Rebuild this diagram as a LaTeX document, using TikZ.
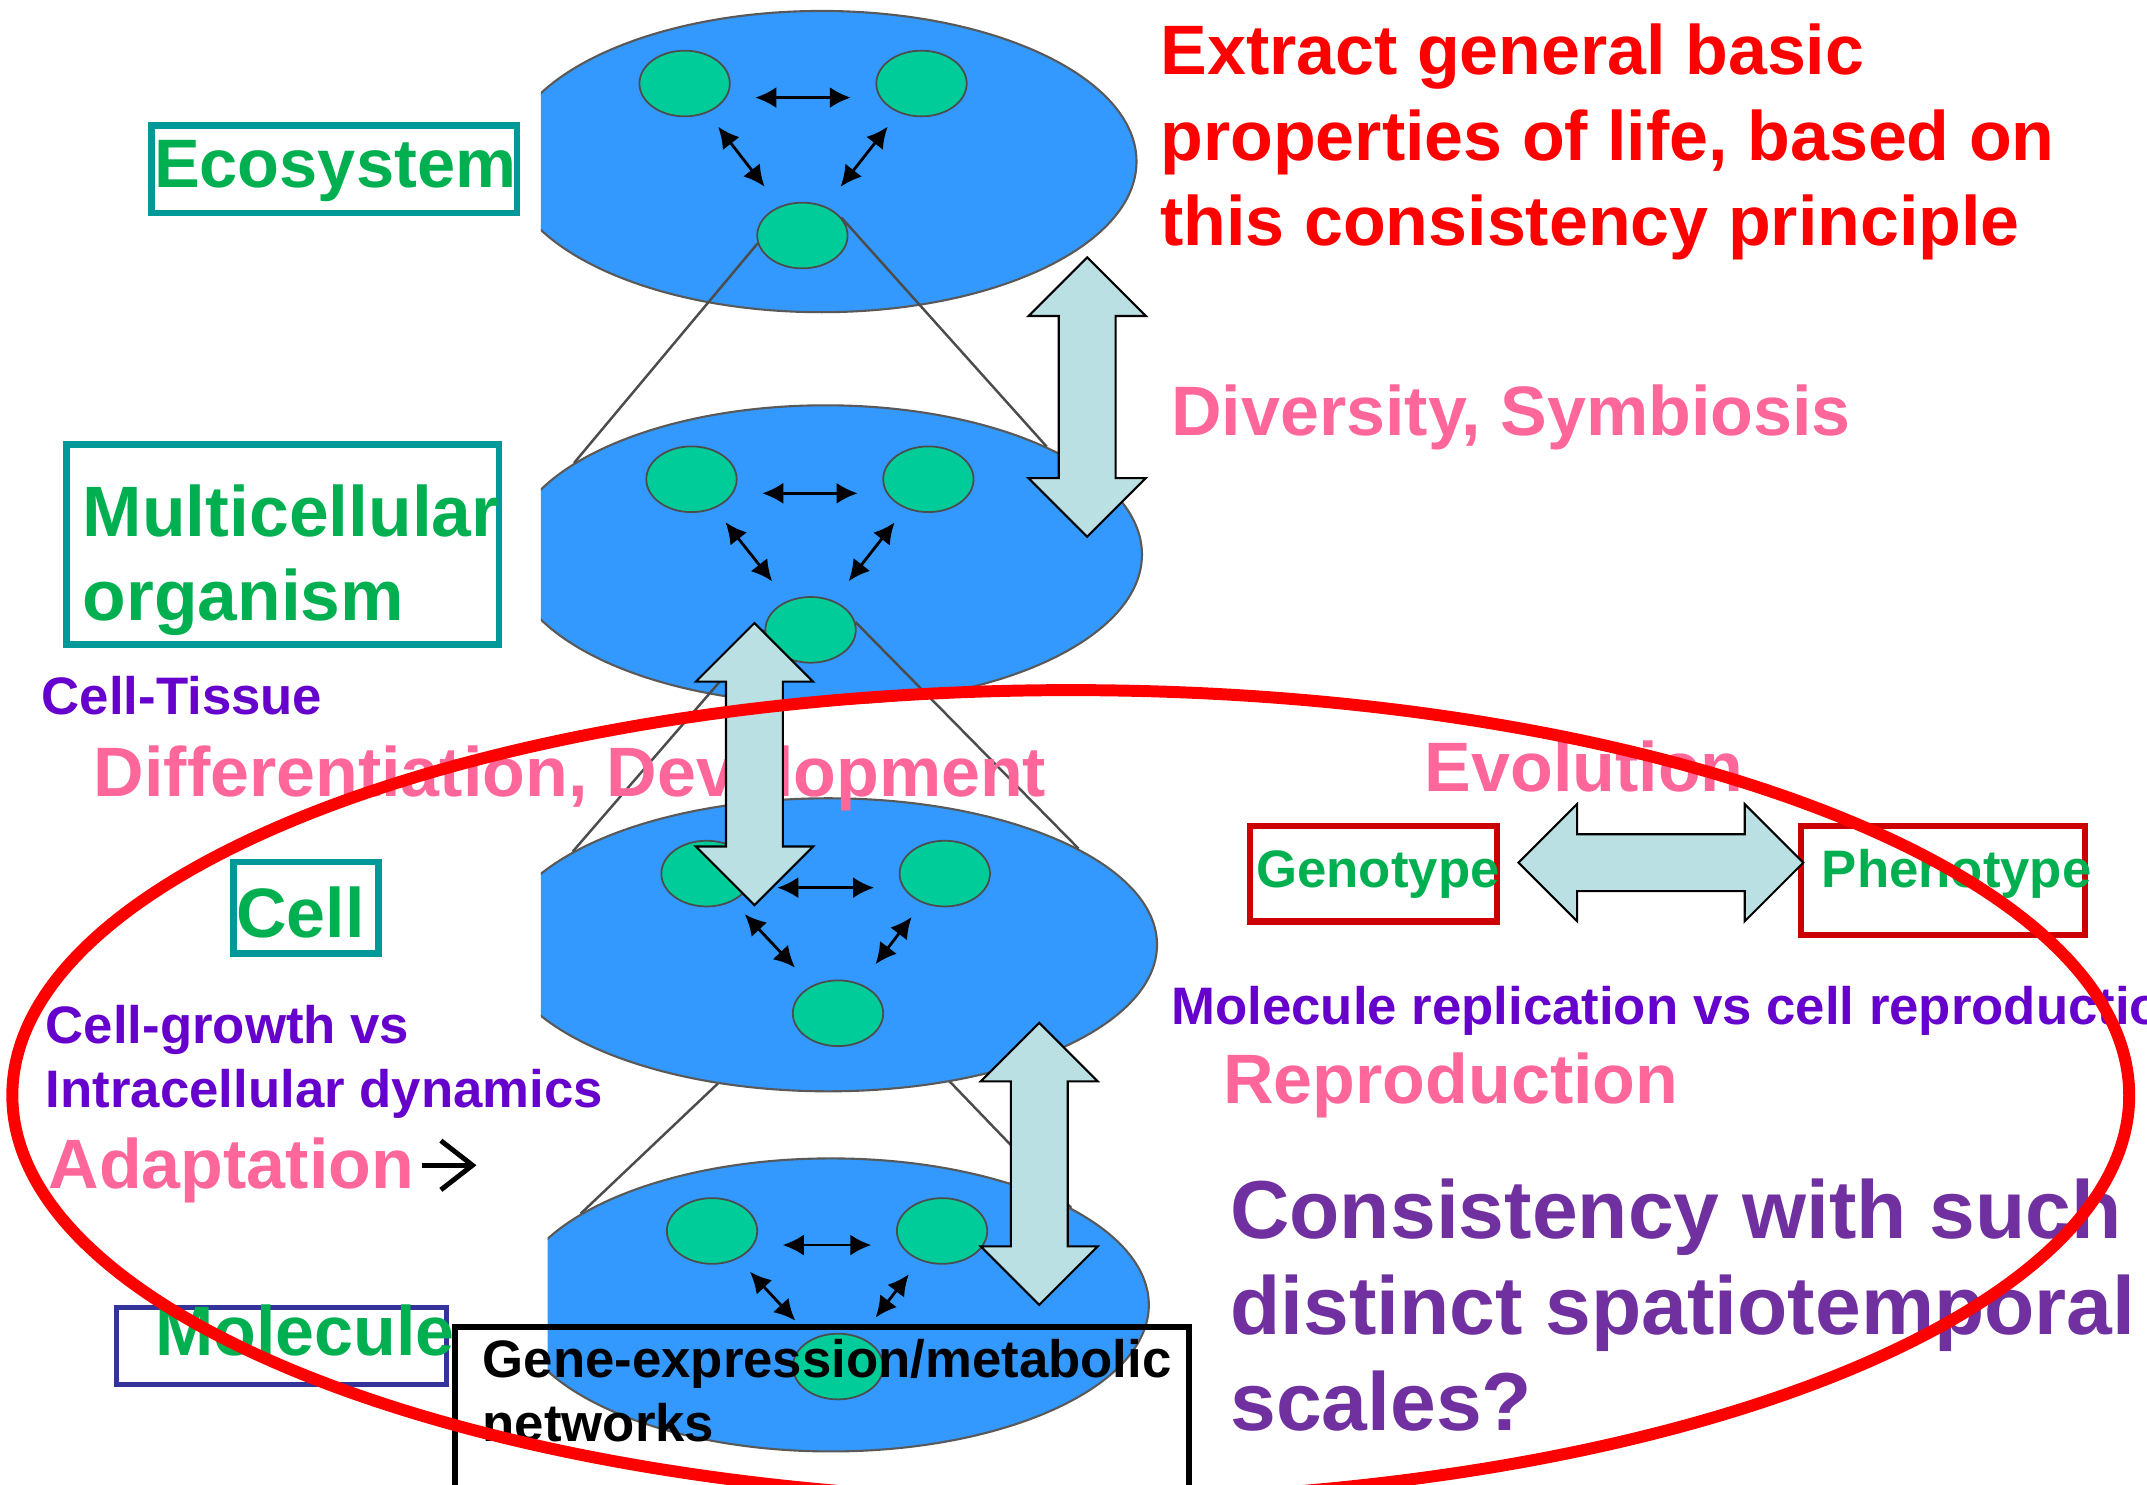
\documentclass[tikz,border=0pt]{standalone}
\usepackage{fontspec}
\setmainfont{Liberation Sans}
\usetikzlibrary{arrows.meta,shapes.geometric,shapes.arrows,backgrounds}

\definecolor{CellBlue}{HTML}{3399FF}
\definecolor{CellGreen}{HTML}{00CC99}
\definecolor{ArrowFill}{HTML}{BBE0E3}
\definecolor{LabelGreen}{HTML}{00B050}
\definecolor{BoxTeal}{HTML}{009999}
\definecolor{BoxRed}{HTML}{CC0000}
\definecolor{BoxNavy}{HTML}{333399}
\definecolor{TopicPink}{HTML}{FF6699}
\definecolor{NotePurple}{HTML}{6600CC}
\definecolor{AskPurple}{HTML}{7030A0}

% one pixel of the 1568 x 1084 layout
\newcommand{\dpx}{0.013693cm}

\tikzset{
  tier/.style={ellipse, draw=black!65, line width=0.6pt, fill=CellBlue, inner sep=0pt},
  cellnode/.style={ellipse, draw=black!70, line width=0.5pt, fill=CellGreen, inner sep=0pt,
                   minimum width=66*\dpx, minimum height=48*\dpx},
  link/.style={{Latex[length=6pt,width=6pt]}-{Latex[length=6pt,width=6pt]}, line width=0.8pt},
  cone/.style={black!70, line width=0.7pt},
  fatarrow/.style={double arrow, draw=black, line width=0.6pt, fill=ArrowFill,
                   inner xsep=0pt, inner ysep=20*\dpx,
                   minimum width=84*\dpx, double arrow head extend=22*\dpx,
                   double arrow tip angle=90},
  framebox/.style={rectangle, inner sep=0pt, fill=none},
  lbl/.style={inner sep=0pt, anchor=base west, align=left},
  bigtext/.style={font=\fontsize{19.9}{24.2}\selectfont\bfseries},
  smalltext/.style={font=\fontsize{15}{18.3}\selectfont\bfseries},
  asktext/.style={font=\fontsize{23.4}{27.3}\selectfont\bfseries},
  pointer/.style={-{Straight Barb[length=9pt,width=14pt]}, line width=1.4pt, black},
  ring/.style={draw=red, line width=3.4pt}
}

\begin{document}
\begin{tikzpicture}[x=\dpx, y=-\dpx]
  \useasboundingbox (0,0) rectangle (1568,1084);
  \clip (0,0) rectangle (1568,1084);

  % the four levels
  \foreach \n/\cx/\cy/\w/\h/\gy/\gl/\gr/\gb/\gby/\cut in {
      1/600/118/460/220/61/500/673/586/172/395,
      2/603/405/462/218/350/505/678/592/460/395,
      3/605/690/480/214/638/516/690/612/740/395,
      4/607/953/464/214/899/520/688/612/998/400}
  {
    \begin{scope}
      \clip (\cut,\cy-130) rectangle (1000,\cy+130);
      \node[tier, minimum width=\w*\dpx, minimum height=\h*\dpx] (tier\n) at (\cx,\cy) {};
    \end{scope}
    \node[cellnode] (gl\n) at (\gl,\gy) {};
    \node[cellnode] (gr\n) at (\gr,\gy) {};
    \node[cellnode] (gb\n) at (\gb,\gby) {};
    \draw[link, shorten <=7pt, shorten >=7pt] ([yshift=-4pt]gl\n.east) -- ([yshift=-4pt]gr\n.west);
    \draw[link, shorten <=5pt, shorten >=7pt] (gl\n) -- (gb\n);
    \draw[link, shorten <=5pt, shorten >=7pt] (gr\n) -- (gb\n);
  }

  % zoom lines between levels
  \draw[cone] (gb1.190) -- (tier2.160);
  \draw[cone] (gb1.25) -- (tier2.26);
  \draw[cone] (gb2.west) -- (tier3.160);
  \draw[cone] (gb2.10) -- (tier3.21);
  \begin{scope}[on background layer]
    \draw[cone] (gb3.west) -- (tier4.160);
    \draw[cone] (gb3.east) -- (tier4.22);
  \end{scope}

  % level boxes
  \node[framebox, draw=BoxTeal, line width=1.9pt, minimum width=267*\dpx, minimum height=64*\dpx] (ecobox) at (244,123.5) {};
  \node[lbl, font=\fontsize{19.5}{24}\selectfont\bfseries, text=LabelGreen] (ecolabel) at (112,137) {Ecosystem};
  \node[framebox, draw=BoxTeal, line width=1.9pt, minimum width=316*\dpx, minimum height=146*\dpx] (multibox) at (206.5,397.5) {};
  \node[lbl, font=\fontsize{20.3}{23.8}\selectfont\bfseries, text=LabelGreen] (multilabel) at (60,453) {Multicellular\\organism};
  \node[framebox, draw=BoxTeal, line width=1.9pt, minimum width=106*\dpx, minimum height=67*\dpx] (cellbox) at (223.5,663) {};
  \node[lbl, bigtext, text=LabelGreen] (celllabel) at (172,685) {Cell};
  \node[framebox, draw=BoxNavy, line width=1.6pt, minimum width=241*\dpx, minimum height=56*\dpx] (molbox) at (205.5,983) {};
  \node[lbl, bigtext, text=LabelGreen] (mollabel) at (113,990) {Molecule};
  \node[framebox, draw=black, line width=1.7pt, minimum width=536*\dpx, minimum height=200*\dpx, anchor=north west] (genebox) at (330,967) {};
  \node[lbl, smalltext] (genelabel) at (352,1053) {Gene-expression/metabolic\\networks};

  % evolution boxes
  \node[framebox, draw=BoxRed, line width=1.75pt, minimum width=180*\dpx, minimum height=70*\dpx] (genobox) at (1003,638) {};
  \node[lbl, smalltext, text=LabelGreen] (genolabel) at (917,648) {Genotype};
  \node[framebox, draw=BoxRed, line width=1.75pt, minimum width=208*\dpx, minimum height=80*\dpx] (phenobox) at (1419,643) {};
  \node[lbl, smalltext, text=LabelGreen] (phenolabel) at (1330,648) {Phenotype};

  % texts
  \node[lbl, bigtext, text=red] (extract) at (847,179) {Extract general basic\\properties of life, based on\\this consistency principle};
  \node[lbl, bigtext, text=TopicPink] (diversity) at (855,318) {Diversity, Symbiosis};
  \node[lbl, smalltext, text=NotePurple] (tissue) at (30,522) {Cell-Tissue};
  \node[lbl, bigtext, text=TopicPink] (differ) at (68,582) {Differentiation, Development};
  \node[lbl, bigtext, text=TopicPink] (evolution) at (1040,578) {Evolution};
  \node[lbl, smalltext, text=NotePurple] (growth) at (33,809) {Cell-growth vs\\Intracellular dynamics};
  \node[lbl, bigtext, text=TopicPink] (adapt) at (35,868) {Adaptation};
  \coordinate (adapttip) at (348,851);
  \draw[pointer] (adapt.east |- adapttip) ++(5,0) -- (adapttip);
  \node[lbl, smalltext, text=NotePurple] (replic) at (855,748) {Molecule replication vs cell reproduction};
  \node[lbl, bigtext, text=TopicPink] (reprod) at (893,806) {Reproduction};
  \node[lbl, asktext, text=AskPurple] (ask) at (898,1045) {Consistency with such\\distinct spatiotemporal\\scales?};

  % block arrows
  \node[fatarrow, rotate=90, minimum height=204*\dpx] (shift12) at (794,290) {};
  \node[fatarrow, rotate=90, minimum height=206*\dpx] (shift23) at (551,558) {};
  \node[fatarrow, rotate=90, minimum height=206*\dpx] (shift34) at (759,850) {};
  \node[fatarrow, minimum height=208*\dpx] (genopheno) at (1213,630) {};

  % highlighted region
  \draw[ring] (782,800) ellipse [x radius=773*\dpx, y radius=296*\dpx];
\end{tikzpicture}
\end{document}
